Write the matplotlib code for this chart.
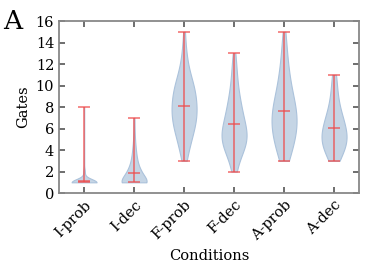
import numpy as np
import matplotlib
matplotlib.use("Agg")
import matplotlib.pyplot as plt

conditions = ["I-prob", "I-dec", "F-prob", "F-dec", "A-prob", "A-dec"]

# gate counts (value -> number of runs)
i_prob_vals = [1, 2, 3, 8]
i_prob_cnt = [90, 5, 1, 1]
i_dec_vals = [1, 2, 3, 4, 5, 6, 7]
i_dec_cnt = [36, 15, 7, 4, 2, 1, 1]
f_prob_vals = [3, 4, 5, 6, 7, 8, 9, 10, 11, 12, 13, 14, 15]
f_prob_cnt = [2, 4, 6, 9, 11, 11, 10, 9, 5, 3, 2, 1, 1]
f_dec_vals = [2, 3, 4, 5, 6, 7, 8, 9, 10, 11, 12, 13]
f_dec_cnt = [2, 3, 8, 12, 10, 7, 6, 4, 3, 2, 2, 1]
a_prob_vals = [3, 4, 5, 6, 7, 8, 9, 10, 11, 12, 13, 14, 15]
a_prob_cnt = [4, 6, 8, 10, 10, 9, 7, 5, 4, 3, 2, 2, 1]
a_dec_vals = [3, 4, 5, 6, 7, 8, 9, 10, 11]
a_dec_cnt = [4, 8, 11, 9, 7, 4, 3, 2, 2]

data = [np.repeat(v, c) for v, c in [
    (i_prob_vals, i_prob_cnt), (i_dec_vals, i_dec_cnt),
    (f_prob_vals, f_prob_cnt), (f_dec_vals, f_dec_cnt),
    (a_prob_vals, a_prob_cnt), (a_dec_vals, a_dec_cnt)]]

plt.rcParams['font.family'] = 'DejaVu Serif'
fig = plt.figure(figsize=(3.74, 2.77), dpi=100)
ax = fig.add_axes([0.158, 0.303, 0.802, 0.621])

parts = ax.violinplot(data, showmeans=True, showextrema=True)
for b in parts['bodies']:
    b.set_facecolor('#c5d5e5')
    b.set_edgecolor('#abc2db')
    b.set_alpha(1)
    b.set_linewidth(0.8)
for k in ['cmeans', 'cmins', 'cmaxes', 'cbars']:
    parts[k].set_color('#f04a4a')
    parts[k].set_alpha(0.75)
    parts[k].set_linewidth(1.2)

ax.set_ylim(0, 16)
ax.set_xlim(0.5, 6.5)
ax.set_xticks(range(1, 7))
ax.set_xticklabels(conditions, rotation=45, ha='right', rotation_mode='anchor')
ax.set_yticks(range(0, 17, 2))
ax.tick_params(direction='in', top=True, right=True, length=4, width=1.2,
               color='#555555', labelsize=10.5)
ax.tick_params(axis='y', labelright=False)
for s in ax.spines.values():
    s.set_color('#888888')
    s.set_linewidth(1.3)

ax.set_xlabel('Conditions', fontsize=10.5)
ax.set_ylabel('Gates', fontsize=10.5)
fig.text(0.008, 0.968, 'A', fontsize=19, va='top', ha='left')

fig.savefig('out.png', dpi=100)
